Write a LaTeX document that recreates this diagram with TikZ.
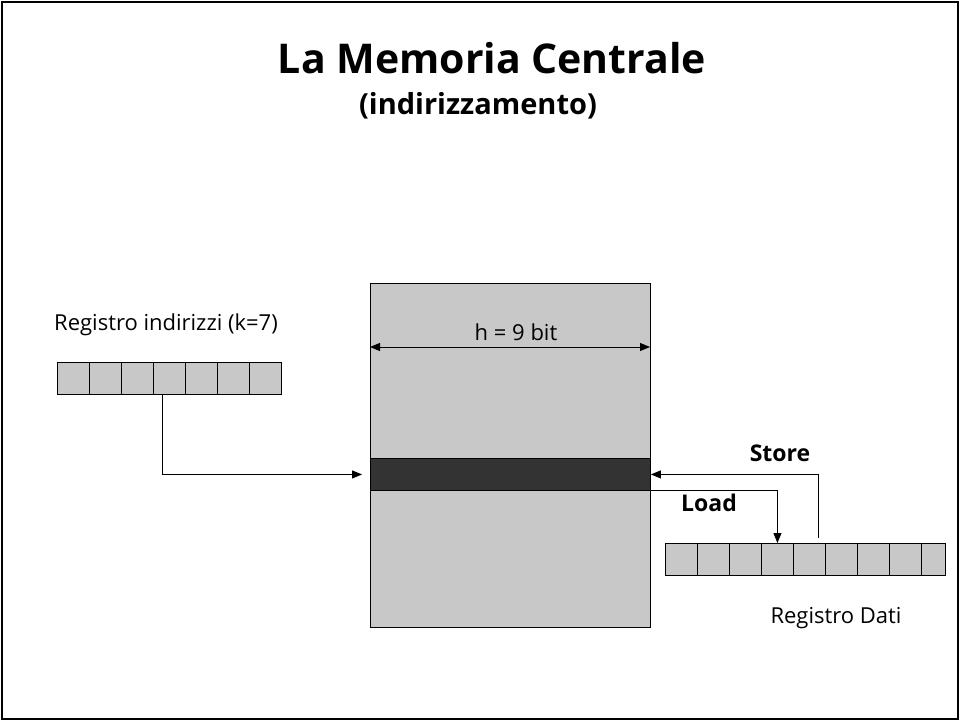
\documentclass[tikz,border=0pt]{standalone}
\usepackage{fontspec}
\setmainfont{Open Sans}
\usetikzlibrary{arrows.meta}
\definecolor{cellgray}{HTML}{C8C8C8}
\definecolor{banddark}{HTML}{333333}
\begin{document}
\begin{tikzpicture}[x=1pt,y=-1pt,
  cell/.style={draw=black,fill=cellgray,line width=0.9pt,minimum width=32pt,minimum height=32pt,inner sep=0pt,anchor=north west},
  conn/.style={line width=0.9pt,-{Triangle[length=10pt,width=8pt]}},
  lbl/.style={inner sep=0pt,font=\fontsize{22}{26}\selectfont},
  blbl/.style={inner sep=0pt,font=\bfseries\fontsize{23}{27}\selectfont}]
\useasboundingbox (0,0) rectangle (961,722);
\draw[line width=1.8pt] (2,2) rectangle (958,719);
\node[inner sep=0pt,font=\bfseries\fontsize{41}{48}\selectfont] (title) at (492,58) {La Memoria Centrale};
\node[inner sep=0pt,font=\bfseries\fontsize{29}{34}\selectfont] (sub) at (478,106) {(indirizzamento)};
% memory
\node[draw=black,fill=cellgray,line width=0.9pt,minimum width=280pt,minimum height=344pt,inner sep=0pt,anchor=north west] (mem) at (370,283) {};
\node[draw=black,fill=banddark,line width=0.9pt,minimum width=280pt,minimum height=32pt,inner sep=0pt,anchor=north west] (band) at (370,458) {};
\coordinate (wl) at (370,347);
\coordinate (wr) at (650,347);
\draw[line width=0.9pt,{Triangle[length=10pt,width=8pt]}-{Triangle[length=10pt,width=8pt]}] (wl) -- (wr);
\node[lbl] (hlab) at (516,332) {h = 9 bit};
% address register
\node[lbl] (rilab) at (166,325) {Registro indirizzi (k=7)};
\foreach \i in {1,...,7} {
  \node[cell] (r\i) at ({57+32*(\i-1)},362) {};
}
\draw[conn,shorten >=8pt] ([xshift=-7pt]r4.south) |- (band.west);
% data register
\foreach \i in {1,...,8} {
  \node[cell] (d\i) at ({665+32*(\i-1)},543) {};
}
\node[cell,minimum width=24pt] (d9) at (921,543) {};
\draw[conn] (band.south east) -| (d4.north);
\coordinate (st) at (818,538);
\draw[conn] (st) |- (band.east);
\node[blbl] (store) at (780,453) {Store};
\node[blbl] (load) at (709,503) {Load};
\node[lbl] (rdlab) at (836,618) {Registro Dati};
\end{tikzpicture}
\end{document}
